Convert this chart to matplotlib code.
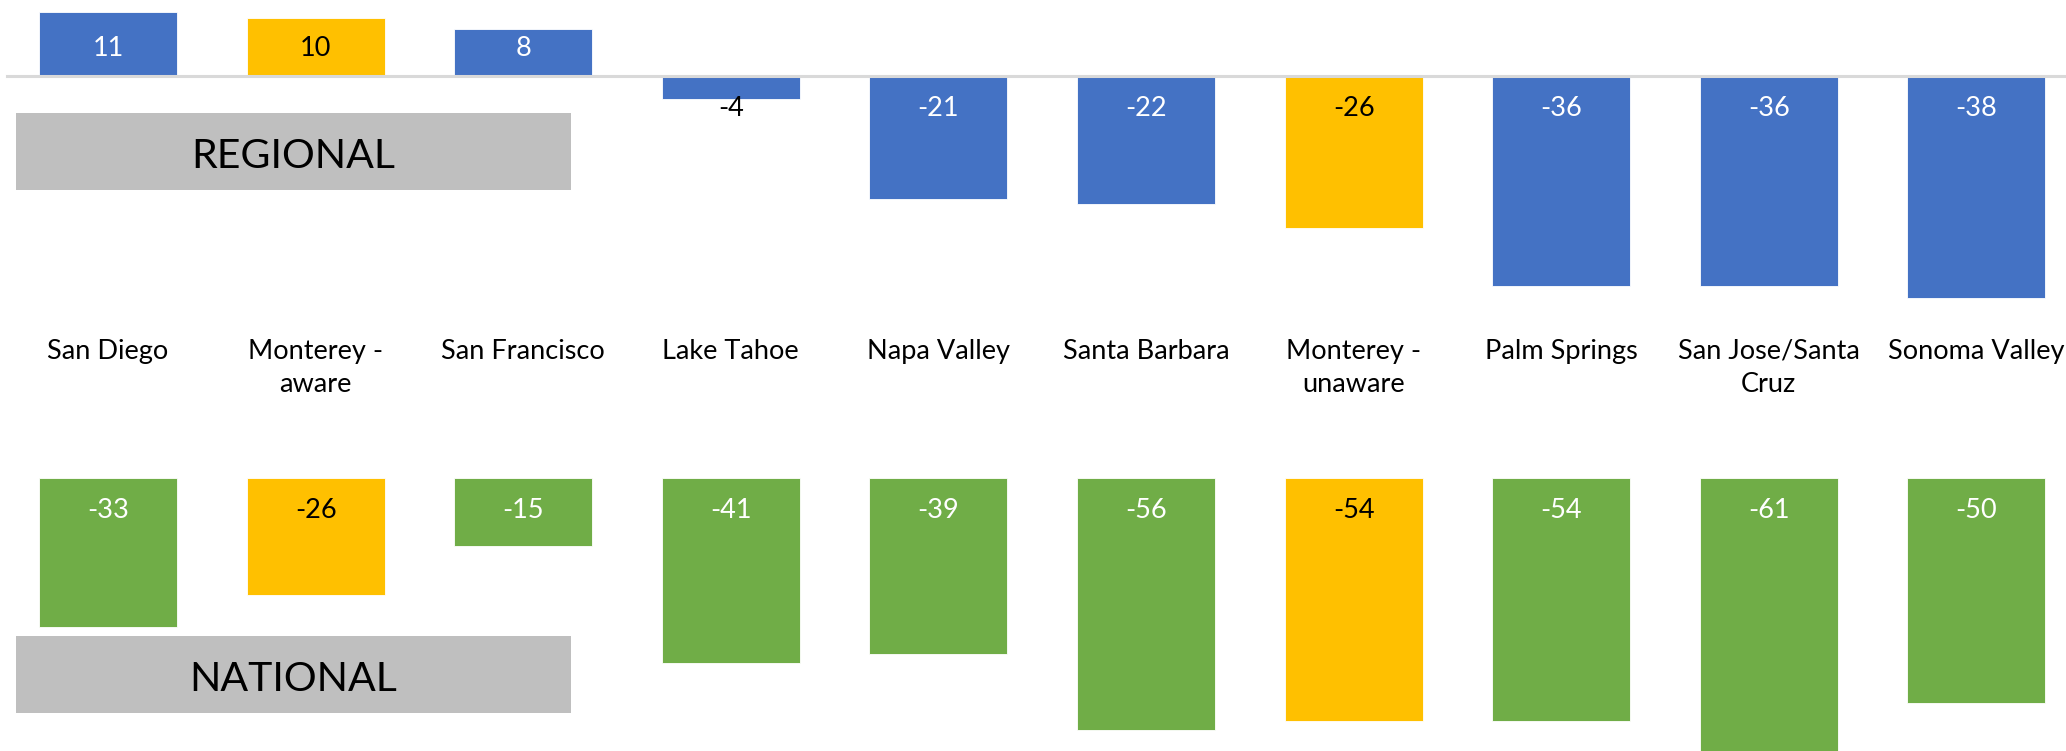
import matplotlib
matplotlib.use("Agg")
import matplotlib.pyplot as plt
from matplotlib.patches import Rectangle
from matplotlib.transforms import blended_transform_factory

plt.rcParams['font.family'] = ['Lato', 'DejaVu Sans']

categories = ["San Diego", "Monterey -\naware", "San Francisco", "Lake Tahoe",
              "Napa Valley", "Santa Barbara", "Monterey -\nunaware", "Palm Springs",
              "San Jose/Santa\nCruz", "Sonoma Valley"]
regional = [11, 10, 8, -4, -21, -22, -26, -36, -36, -38]
national = [-33, -26, -15, -41, -39, -56, -54, -54, -61, -50]
highlight = [False, True, False, False, False, False, True, False, False, False]

BLUE = "#4472C4"
GREEN = "#70AD47"
YELLOW = "#FFC000"
GREY = "#BFBFBF"

W, H = 2066, 751
fig = plt.figure(figsize=(W / 100, H / 100), dpi=100)

x = list(range(len(categories)))
xl = (-108 / 207.6, (W - 108) / 207.6)

# top (regional) axes: pixel rows 0..310, zero at 76 px
top_px, bot_px, zero_px, scale = 0, 310, 76, 5.84
ax1 = fig.add_axes([0, 1 - bot_px / H, 1, (bot_px - top_px) / H])
ax1.set_xlim(*xl)
ax1.set_ylim(-(bot_px - zero_px) / scale, (zero_px - top_px) / scale)
cols1 = [YELLOW if h else BLUE for h in highlight]
ax1.bar(x, regional, width=0.665, color=cols1, edgecolor="#FFFFFF", linewidth=0.6, zorder=2)
ax1.axhline(0, xmin=7 / W, xmax=1, color="#D9D9D9", lw=2.2, zorder=3)
ax1.axis("off")

for xi, v, h in zip(x, regional, highlight):
    px_len = abs(v) * scale
    off = 28 if v > 0 else -32
    inside = px_len > abs(off) + 12
    col = "black" if (h or not inside) else "white"
    ax1.annotate(str(v), xy=(xi, 0), xytext=(0, off * 72 / 100), textcoords="offset points",
                 ha="center", va="center", fontsize=19.5, color=col, zorder=4)

# bottom (national) axes: pixel rows 478..751, zero at 478 px
scale2 = 4.5
ax2 = fig.add_axes([0, 0, 1, (H - 478) / H])
ax2.set_xlim(*xl)
ax2.set_ylim(-(H - 478) / scale2, 0)
cols2 = [YELLOW if h else GREEN for h in highlight]
ax2.bar(x, national, width=0.665, color=cols2, edgecolor="#FFFFFF", linewidth=0.6, zorder=2)
ax2.axis("off")
for xi, v, h in zip(x, national, highlight):
    col = "black" if h else "white"
    ax2.annotate(str(v), xy=(xi, 0), xytext=(0, -33 * 72 / 100), textcoords="offset points",
                 ha="center", va="center", fontsize=19.5, color=col, zorder=4)

# category labels between the two panels
tr = blended_transform_factory(ax1.transData, fig.transFigure)
for xi, c in zip(x, categories):
    ax1.text(xi, 1 - 339 / H, c, transform=tr, ha="center", va="top",
             fontsize=19.5, color="black", linespacing=1.42, clip_on=False)

# panel title boxes
for label, y0, y1 in [("REGIONAL", 113, 190), ("NATIONAL", 636, 713)]:
    fig.patches.append(Rectangle((16 / W, 1 - y1 / H), (571 - 16) / W, (y1 - y0) / H,
                                 transform=fig.transFigure, facecolor=GREY, edgecolor="none"))
    fig.text((16 + 571) / 2 / W, 1 - (y0 + y1) / 2 / H - 5 / H, label, ha="center", va="center",
             fontsize=29.5, color="black")

fig.savefig("out.png", dpi=100)
